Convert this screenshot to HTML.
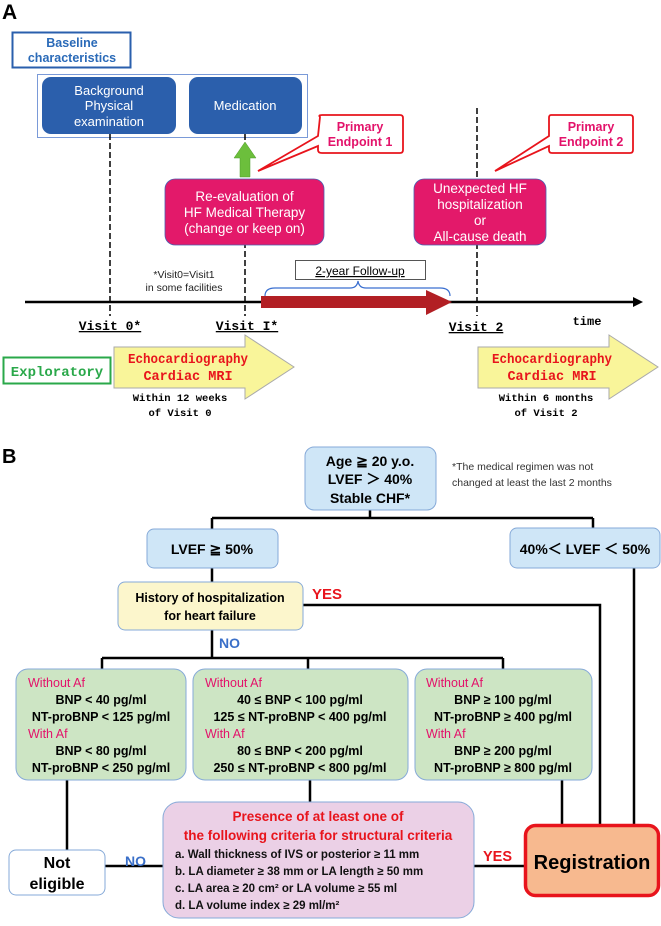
<!DOCTYPE html>
<html><head><meta charset="utf-8"><style>
html,body{margin:0;padding:0;background:#fff}
svg{display:block}
text{font-family:"Liberation Sans",sans-serif}
.m{font-family:"Liberation Mono",monospace;font-weight:bold}
</style></head><body>
<svg width="661" height="926" viewBox="0 0 661 926" xmlns="http://www.w3.org/2000/svg">
<text x="2" y="19" font-size="21" font-weight="bold">A</text>
<rect x="12.5" y="32.5" width="118" height="35" fill="#fff" stroke="#2a5fad" stroke-width="2"/>
<text x="72" y="47" font-size="12.5" font-weight="bold" fill="#2a6ab8" text-anchor="middle">Baseline</text>
<text x="72" y="62" font-size="12.5" font-weight="bold" fill="#2a6ab8" text-anchor="middle">characteristics</text>
<rect x="37.5" y="74.5" width="270" height="63" fill="none" stroke="#7a9ad8" stroke-width="1"/>
<g stroke="#000" stroke-width="1.5" stroke-dasharray="6,3">
<line x1="110" y1="134" x2="110" y2="316"/>
<line x1="245" y1="134" x2="245" y2="316"/>
<line x1="477" y1="108" x2="477" y2="316"/>
</g>
<rect x="42" y="77" width="134" height="57" rx="9" fill="#2b5fac"/>
<text x="109" y="95" font-size="13" fill="#fff" text-anchor="middle">Background</text>
<text x="109" y="110" font-size="13" fill="#fff" text-anchor="middle">Physical</text>
<text x="109" y="126" font-size="13" fill="#fff" text-anchor="middle">examination</text>
<rect x="189" y="77" width="113" height="57" rx="9" fill="#2b5fac"/>
<text x="245" y="110" font-size="13" fill="#fff" text-anchor="middle">Medication</text>
<polygon points="245,142 256,158 250,158 250,177 240,177 240,158 234,158" fill="#6cbf3c" stroke="#4f9a2a" stroke-width="0.5"/>
<path d="M320,117 Q318,115 322,115 L400,115 Q403,115 403,118 L403,150 Q403,153 400,153 L322,153 Q318,153 318,150 L318,146 L258,171 L318,136 Z" fill="#fff" stroke="#e8141c" stroke-width="1.8"/>
<text x="360" y="131" font-size="12.5" font-weight="bold" fill="#e3126a" text-anchor="middle">Primary</text>
<text x="360" y="146" font-size="12.5" font-weight="bold" fill="#e3126a" text-anchor="middle">Endpoint 1</text>
<path d="M551,115 L630,115 Q633,115 633,118 L633,150 Q633,153 630,153 L552,153 Q549,153 549,150 L549,146 L495,171 L549,136 L549,118 Q549,115 551,115 Z" fill="#fff" stroke="#e8141c" stroke-width="1.8"/>
<text x="591" y="131" font-size="12.5" font-weight="bold" fill="#e3126a" text-anchor="middle">Primary</text>
<text x="591" y="146" font-size="12.5" font-weight="bold" fill="#e3126a" text-anchor="middle">Endpoint 2</text>
<rect x="165" y="179" width="159" height="66" rx="10" fill="#e3196a" stroke="#4a5fb0" stroke-width="0.8"/>
<text x="244.5" y="201" font-size="13.5" fill="#fff" text-anchor="middle">Re-evaluation of</text>
<text x="244.5" y="217" font-size="13.5" fill="#fff" text-anchor="middle">HF Medical Therapy</text>
<text x="244.5" y="233" font-size="13.5" fill="#fff" text-anchor="middle">(change or keep on)</text>
<rect x="414" y="179" width="132" height="66" rx="10" fill="#e3196a" stroke="#4a5fb0" stroke-width="0.8"/>
<text x="480" y="193" font-size="13.5" fill="#fff" text-anchor="middle">Unexpected HF</text>
<text x="480" y="209" font-size="13.5" fill="#fff" text-anchor="middle">hospitalization</text>
<text x="480" y="225" font-size="13.5" fill="#fff" text-anchor="middle">or</text>
<text x="480" y="241" font-size="13.5" fill="#fff" text-anchor="middle">All-cause death</text>
<rect x="295.5" y="260.5" width="130" height="19" fill="#fff" stroke="#555" stroke-width="1"/>
<text x="360" y="275" font-size="12" fill="#000" text-anchor="middle" text-decoration="underline">2-year Follow-up</text>
<path d="M265,296 Q265,288 275,288 L350,288 Q357,288 358,281 Q359,288 366,288 L440,288 Q450,288 450,296" fill="none" stroke="#3a6fd0" stroke-width="1.2"/>
<text x="184" y="278" font-size="10.5" fill="#222" text-anchor="middle">*Visit0=Visit1</text>
<text x="184" y="291" font-size="10.5" fill="#222" text-anchor="middle">in some facilities</text>
<line x1="25" y1="302" x2="635" y2="302" stroke="#000" stroke-width="2.5"/>
<polygon points="643,302 633,297 633,307" fill="#000"/>
<polygon points="261,296 426,296 426,290 452,302 426,315 426,308 261,308" fill="#b21f24"/>
<text x="110" y="330" font-size="13" class="m" text-anchor="middle" text-decoration="underline">Visit 0*</text>
<text x="247" y="330" font-size="13" class="m" text-anchor="middle" text-decoration="underline">Visit I*</text>
<text x="476" y="331" font-size="13" class="m" text-anchor="middle" text-decoration="underline">Visit 2</text>
<text x="587" y="325" font-size="12" class="m" text-anchor="middle">time</text>
<rect x="3.5" y="357.5" width="107" height="26" fill="#fff" stroke="#2aa84a" stroke-width="2"/>
<text x="57" y="376" font-size="14" class="m" fill="#2aa84a" font-weight="normal" text-anchor="middle">Exploratory</text>
<polygon points="114,347 245,347 245,335 294,367 245,399 245,388 114,388" fill="#f9f59a" stroke="#aaa" stroke-width="1"/>
<text x="188" y="363" font-size="13.5" class="m" font-weight="normal" fill="#e8141c" text-anchor="middle" textLength="120" lengthAdjust="spacingAndGlyphs">Echocardiography</text>
<text x="188" y="380" font-size="13.5" class="m" font-weight="normal" fill="#e8141c" text-anchor="middle">Cardiac MRI</text>
<text x="180" y="401" font-size="10.5" class="m" text-anchor="middle">Within 12 weeks</text>
<text x="180" y="416" font-size="10.5" class="m" text-anchor="middle">of Visit 0</text>
<polygon points="478,347 609,347 609,335 658,367 609,399 609,388 478,388" fill="#f9f59a" stroke="#aaa" stroke-width="1"/>
<text x="552" y="363" font-size="13.5" class="m" font-weight="normal" fill="#e8141c" text-anchor="middle" textLength="120" lengthAdjust="spacingAndGlyphs">Echocardiography</text>
<text x="552" y="380" font-size="13.5" class="m" font-weight="normal" fill="#e8141c" text-anchor="middle">Cardiac MRI</text>
<text x="546" y="401" font-size="10.5" class="m" text-anchor="middle">Within 6 months</text>
<text x="546" y="416" font-size="10.5" class="m" text-anchor="middle">of Visit 2</text>

<text x="2" y="463" font-size="20" font-weight="bold">B</text>
<g stroke="#000" stroke-width="2.5" fill="none">
<path d="M370,510 V518 M212,518 H593 M212,518 V529 M593,518 V528"/>
<path d="M212,568 V582 M212,630 V658 M102,658 H503 M102,658 V669 M308,658 V669 M503,658 V669"/>
<path d="M303,605 H600 V824 M634,568 V824 M562,780 V824"/>
<path d="M67,780 V850 M310,780 V802 M105,866 H163 M474,866 H525"/>
</g>
<rect x="305" y="447" width="131" height="63" rx="9" fill="#cfe6f7" stroke="#86aad8" stroke-width="1"/>
<text x="370" y="466" font-size="14" font-weight="bold" text-anchor="middle">Age ≧ 20 y.o.</text>
<text x="370" y="484" font-size="14" font-weight="bold" text-anchor="middle">LVEF ＞ 40%</text>
<text x="370" y="503" font-size="14" font-weight="bold" text-anchor="middle">Stable CHF*</text>
<text x="452" y="470" font-size="10.5" fill="#333">*The medical regimen was not</text>
<text x="452" y="486" font-size="10.5" fill="#333">changed at least the last 2 months</text>
<rect x="147" y="529" width="131" height="39" rx="7" fill="#cfe6f7" stroke="#86aad8" stroke-width="1"/>
<text x="212" y="554" font-size="14" font-weight="bold" text-anchor="middle">LVEF ≧ 50%</text>
<rect x="510" y="528" width="150" height="40" rx="7" fill="#cfe6f7" stroke="#86aad8" stroke-width="1"/>
<text x="585" y="554" font-size="14" font-weight="bold" text-anchor="middle">40%＜ LVEF ＜ 50%</text>
<rect x="118" y="582" width="185" height="48" rx="7" fill="#fcf6cc" stroke="#86aad8" stroke-width="1"/>
<text x="210" y="602" font-size="12.5" font-weight="bold" text-anchor="middle">History of hospitalization</text>
<text x="210" y="620" font-size="12.5" font-weight="bold" text-anchor="middle">for heart failure</text>
<text x="312" y="599" font-size="15" font-weight="bold" fill="#e8141c">YES</text>
<text x="219" y="648" font-size="14" font-weight="bold" fill="#3a6fc8">NO</text>
<rect x="16" y="669" width="170" height="111" rx="12" fill="#cde5c4" stroke="#86aad8" stroke-width="1"/>
<rect x="193" y="669" width="215" height="111" rx="12" fill="#cde5c4" stroke="#86aad8" stroke-width="1"/>
<rect x="415" y="669" width="177" height="111" rx="12" fill="#cde5c4" stroke="#86aad8" stroke-width="1"/>
<g font-size="12.5" font-weight="bold">
<text x="28" y="687" fill="#e3126a" font-weight="normal">Without Af</text>
<text x="101" y="704" text-anchor="middle">BNP &lt; 40 pg/ml</text>
<text x="101" y="721" text-anchor="middle">NT-proBNP &lt; 125 pg/ml</text>
<text x="28" y="738" fill="#e3126a" font-weight="normal">With Af</text>
<text x="101" y="755" text-anchor="middle">BNP &lt; 80 pg/ml</text>
<text x="101" y="772" text-anchor="middle">NT-proBNP &lt; 250 pg/ml</text>
<text x="205" y="687" fill="#e3126a" font-weight="normal">Without Af</text>
<text x="300" y="704" text-anchor="middle">40 ≤ BNP &lt; 100 pg/ml</text>
<text x="300" y="721" text-anchor="middle">125 ≤ NT-proBNP &lt; 400 pg/ml</text>
<text x="205" y="738" fill="#e3126a" font-weight="normal">With Af</text>
<text x="300" y="755" text-anchor="middle">80 ≤ BNP &lt; 200 pg/ml</text>
<text x="300" y="772" text-anchor="middle">250 ≤ NT-proBNP &lt; 800 pg/ml</text>
<text x="426" y="687" fill="#e3126a" font-weight="normal">Without Af</text>
<text x="503" y="704" text-anchor="middle">BNP ≥ 100 pg/ml</text>
<text x="503" y="721" text-anchor="middle">NT-proBNP ≥ 400 pg/ml</text>
<text x="426" y="738" fill="#e3126a" font-weight="normal">With Af</text>
<text x="503" y="755" text-anchor="middle">BNP ≥ 200 pg/ml</text>
<text x="503" y="772" text-anchor="middle">NT-proBNP ≥ 800 pg/ml</text>
</g>
<rect x="163" y="802" width="311" height="116" rx="16" fill="#ebd0e6" stroke="#86aad8" stroke-width="1"/>
<text x="318" y="821" font-size="13.5" font-weight="bold" fill="#e8141c" text-anchor="middle">Presence of at least one of</text>
<text x="318" y="840" font-size="13.5" font-weight="bold" fill="#e8141c" text-anchor="middle">the following criteria for structural criteria</text>
<g font-size="11.5" font-weight="bold" fill="#111">
<text x="175" y="858">a. Wall thickness of IVS or posterior ≥ 11 mm</text>
<text x="175" y="875">b. LA diameter ≥ 38 mm or LA length ≥ 50 mm</text>
<text x="175" y="892">c. LA area ≥ 20 cm² or LA volume ≥ 55 ml</text>
<text x="175" y="909">d. LA volume index ≥ 29 ml/m²</text>
</g>
<rect x="9" y="850" width="96" height="45" rx="7" fill="#fff" stroke="#86aad8" stroke-width="1"/>
<text x="57" y="868" font-size="16" font-weight="bold" text-anchor="middle">Not</text>
<text x="57" y="889" font-size="16" font-weight="bold" text-anchor="middle">eligible</text>
<text x="125" y="866" font-size="14" font-weight="bold" fill="#3a6fc8">NO</text>
<text x="483" y="861" font-size="14.5" font-weight="bold" fill="#e8141c">YES</text>
<rect x="525.5" y="825.5" width="133" height="70" rx="10" fill="#f7b98f" stroke="#e8141c" stroke-width="3.5"/>
<text x="592" y="869" font-size="20" font-weight="bold" text-anchor="middle">Registration</text>
</svg>
</body></html>
